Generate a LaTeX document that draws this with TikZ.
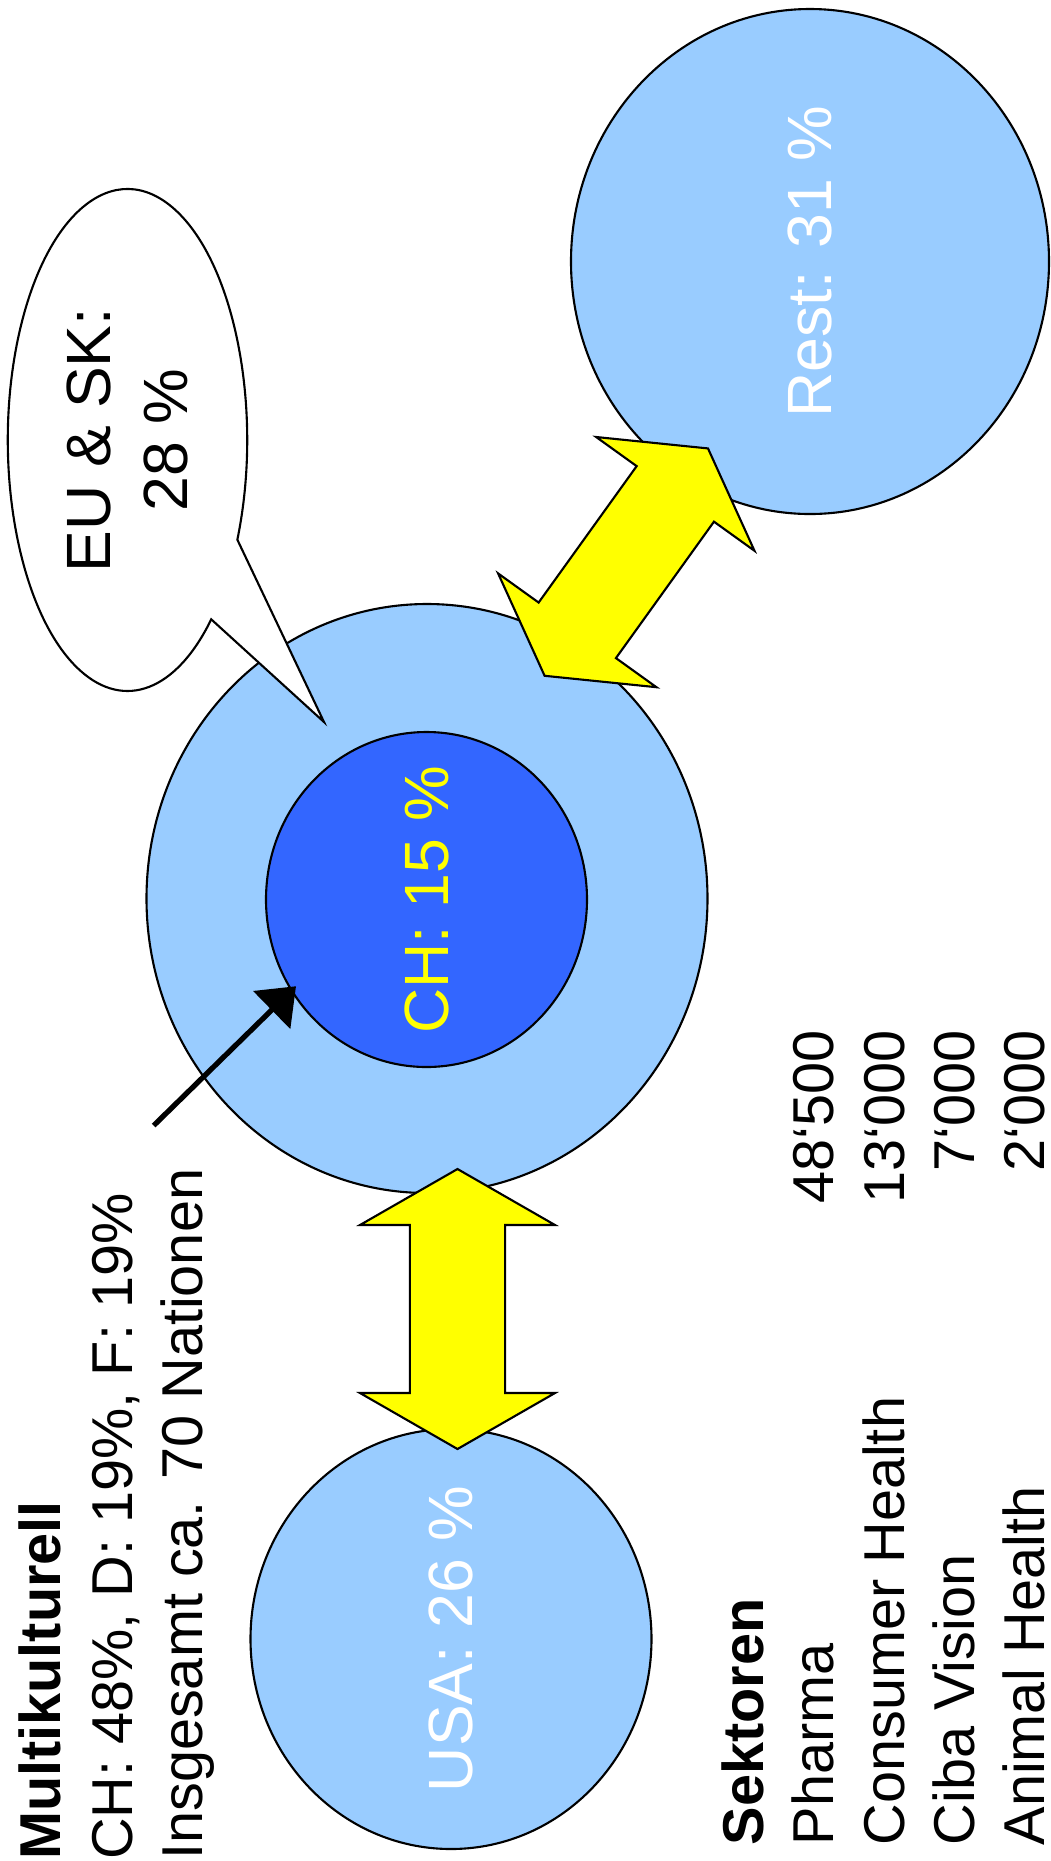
\documentclass[tikz,border=0pt]{standalone}
\usepackage{fontspec}
\setmainfont{Liberation Sans}
\usetikzlibrary{shapes.geometric,arrows.meta}
\definecolor{paleblue}{HTML}{99CCFF}
\definecolor{deepblue}{HTML}{3366FF}
\definecolor{signyellow}{HTML}{FFFF00}
\tikzset{
  region/.style={ellipse, draw, line width=0.6pt, fill=paleblue, inner sep=0pt, outer sep=0pt},
  bigtext/.style={rotate=90, inner sep=0pt, font=\fontsize{17.8}{21.9}\selectfont},
  listtext/.style={rotate=90, inner sep=0pt, anchor=base west, font=\fontsize{16.4}{19.9}\selectfont},
  listhead/.style={listtext, font=\fontsize{16.4}{19.9}\selectfont\bfseries},
  listnum/.style={listtext, anchor=base east},
  dblarrow/.pic={
    \filldraw[fill=signyellow, line width=0.6pt] (0,1.40) -- (0.975,0.84) -- (0.476,0.84) -- (0.476,-0.84)
      -- (0.975,-0.84) -- (0,-1.40) -- (-0.975,-0.84) -- (-0.476,-0.84) -- (-0.476,0.84) -- (-0.975,0.84) -- cycle;
  }
}

\begin{document}
\begin{tikzpicture}
\path[fill=white, use as bounding box] (0,0) rectangle (10.5,-18.61);
% regions
\node[region, minimum width=4.78cm, minimum height=5.05cm] (rest) at (8.10,-2.615) {};
\node[region, minimum width=5.61cm, minimum height=5.89cm] (eusk) at (4.27,-8.985) {};
\node[region, fill=deepblue, minimum width=3.21cm, minimum height=3.35cm] (ch) at (4.265,-8.995) {};
\node[region, minimum width=4.01cm, minimum height=4.20cm] (usa) at (4.51,-16.39) {};
\node[bigtext, white] (resttxt) at (rest) {Rest: 31 \%};
\node[bigtext, signyellow] (chtxt) at (ch) {CH: 15 \%};
\node[bigtext, white] (usatxt) at (usa) {USA: 26 \%};
% callout
\coordinate (eucall) at (1.275,-4.40);
\coordinate (eutip) at (3.24,-7.22);
\filldraw[fill=white, line width=0.6pt] (eucall) ++(-23.4:1.197 and 2.51)
  arc[start angle=-23.4, end angle=314.4, x radius=1.197, y radius=2.51] -- (eutip) -- cycle;
\node[bigtext, align=center] (eutxt) at (eucall) {EU \& SK:\\28 \%};
% exchange arrows
\pic at (4.575,-13.09) {dblarrow};
\pic[rotate=-35.7] at (6.263,-5.621) {dblarrow};
% pointer
\coordinate (mkstart) at (1.537,-11.255);
\draw[-{Triangle[length=3.4mm,width=5.2mm]}, line width=1.5pt, shorten >=-0.6mm] (mkstart) -- (ch.214.8);
% left text
\node[listhead] (mkhead) at (0.603,-18.605) {Multikulturell};
\node[listtext] (mkline1) at (1.325,-18.605) {CH: 48\%, D: 19\%, F: 19\%};
\node[listtext] (mkline2) at (2.02,-18.605) {Insgesamt ca. 70 Nationen};
% sectors
\node[listhead] (sekhead) at (7.635,-18.46) {Sektoren};
\node[listtext] (pharma) at (8.338,-18.46) {Pharma};
\node[listtext] (consumer) at (9.041,-18.46) {Consumer Health};
\node[listtext] (ciba) at (9.744,-18.46) {Ciba Vision};
\node[listtext] (animal) at (10.447,-18.46) {Animal Health};
\node[listnum] (pharmanum) at (8.338,-10.30) {48‘500};
\node[listnum] (consumernum) at (9.041,-10.30) {13‘000};
\node[listnum] (cibanum) at (9.744,-10.30) {7‘000};
\node[listnum] (animalnum) at (10.447,-10.30) {2‘000};
\end{tikzpicture}
\end{document}
